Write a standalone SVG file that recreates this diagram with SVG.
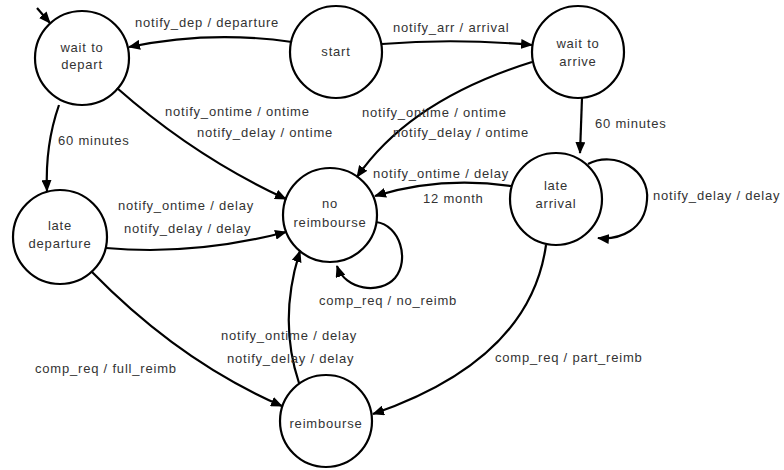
<svg xmlns="http://www.w3.org/2000/svg" width="784" height="470" viewBox="0 0 784 470">
  <defs>
    <marker id="arrow" viewBox="0 0 12 10" refX="11" refY="5" markerWidth="12" markerHeight="10" markerUnits="userSpaceOnUse" orient="auto">
      <path d="M0,0 L12,5 L0,10 z" fill="#000"/>
    </marker>
    <style>
      .state { fill: #fff; stroke: #000; stroke-width: 2.2; }
      .edge { fill: none; stroke: #000; stroke-width: 2.2; marker-end: url(#arrow); }
      text { font-family: "Liberation Sans", Arial, sans-serif; font-size: 13px; fill: #333; letter-spacing: 0.8px; }
      .name { text-anchor: middle; }
    </style>
  </defs>
  <rect width="784" height="470" fill="#fff"/>

  <!-- states -->
  <g id="wait-to-depart">
    <circle class="state" cx="82" cy="58" r="47"/>
    <text class="name" x="82" y="52">wait to</text>
    <text class="name" x="82" y="69">depart</text>
  </g>
  <g id="start">
    <circle class="state" cx="336" cy="52" r="46"/>
    <text class="name" x="336" y="56">start</text>
  </g>
  <g id="wait-to-arrive">
    <circle class="state" cx="578" cy="52" r="46"/>
    <text class="name" x="578" y="48">wait to</text>
    <text class="name" x="578" y="66">arrive</text>
  </g>
  <g id="late-arrival">
    <circle class="state" cx="556" cy="199" r="46"/>
    <text class="name" x="556" y="190">late</text>
    <text class="name" x="556" y="208">arrival</text>
  </g>
  <g id="late-departure">
    <circle class="state" cx="60" cy="237" r="47"/>
    <text class="name" x="60" y="230">late</text>
    <text class="name" x="60" y="248">departure</text>
  </g>
  <g id="no-reimbourse">
    <circle class="state" cx="330" cy="215" r="47"/>
    <text class="name" x="330" y="208">no</text>
    <text class="name" x="330" y="227">reimbourse</text>
  </g>
  <g id="reimbourse">
    <circle class="state" cx="326" cy="421" r="46"/>
    <text class="name" x="326" y="428">reimbourse</text>
  </g>

  <!-- transitions -->
  <g id="connectors">
    <path class="edge" d="M37,8 L50,23"/>
    <path class="edge" d="M292,42 Q210,30 129,47"/>
    <path class="edge" d="M382,44 Q455,38 532,45"/>
    <path class="edge" d="M117,88 Q195,157 286,199"/>
    <path class="edge" d="M532,62 Q410,100 357,177"/>
    <path class="edge" d="M59,105 Q45,145 47,191"/>
    <path class="edge" d="M582,98 L580,153"/>
    <path class="edge" d="M588,164 C615,150 650,170 647,200 C645,230 620,240 598,238"/>
    <path class="edge" d="M511,186 Q440,176 375,196"/>
    <path class="edge" d="M106,248 Q194,256 286,232"/>
    <path class="edge" d="M376,222 C400,225 410,260 395,278 C380,295 345,290 337,266"/>
    <path class="edge" d="M92,272 Q180,362 282,406"/>
    <path class="edge" d="M299,383 Q278,320 300,251"/>
    <path class="edge" d="M546,245 Q530,360 373,414"/>
  </g>

  <!-- transition labels -->
  <g id="labels">
    <text x="135" y="27">notify_dep / departure</text>
    <text x="393" y="32">notify_arr / arrival</text>
    <text x="165" y="116">notify_ontime / ontime</text>
    <text x="197" y="137">notify_delay / ontime</text>
    <text x="362" y="117">notify_ontime / ontime</text>
    <text x="393" y="137">notify_delay / ontime</text>
    <text x="58" y="145">60 minutes</text>
    <text x="595" y="128">60 minutes</text>
    <text x="653" y="200">notify_delay / delay</text>
    <text x="118" y="210">notify_ontime / delay</text>
    <text x="124" y="233">notify_delay / delay</text>
    <text x="373" y="178">notify_ontime / delay</text>
    <text x="423" y="203">12 month</text>
    <text x="319" y="305">comp_req / no_reimb</text>
    <text x="221" y="340">notify_ontime / delay</text>
    <text x="227" y="363">notify_delay / delay</text>
    <text x="35" y="373">comp_req / full_reimb</text>
    <text x="495" y="362">comp_req / part_reimb</text>
  </g>
</svg>
